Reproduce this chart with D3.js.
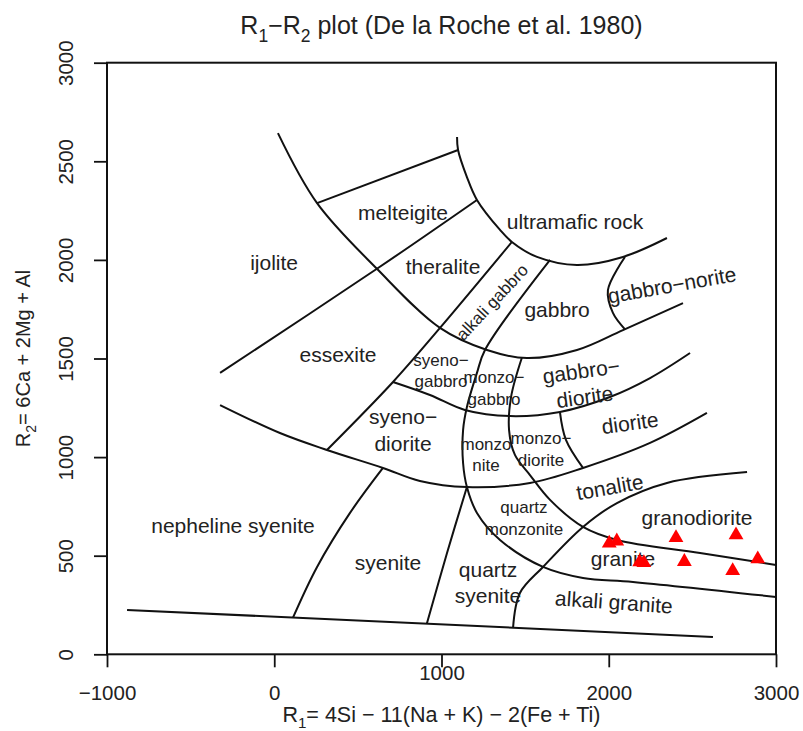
<!DOCTYPE html>
<html>
<head>
<meta charset="UTF-8"/>
<script src="https://d3js.org/d3.v7.min.js"></script>
<style>
body{margin:0;background:#fff;}
text{font-family:"Liberation Sans",Arial,sans-serif;fill:#222;}
</style>
</head>
<body>
<script>
// ticks
const xTicks = [-1000, 0, 1000, 2000, 3000];
const yTicks = [0, 500, 1000, 1500, 2000, 2500, 3000];

// field boundaries, [R1, R2]
const ultramaficArc = [[1093,2623],[1099,2557],[1152,2420],[1212,2304],[1350,2152],[1421,2091],[1571,2015],[1810,1974],[2085,2015],[2348,2111]];
const melteigiteTop = [[256,2288],[1099,2557]];
const theraliteTop  = [[1212,2304],[614,1955],[-324,1427]];
const gabbroBase    = [[22,2643],[256,2288],[614,1955],[991,1655],[1272,1543],[1511,1502],[1810,1543],[2085,1644],[2444,1781]];
const alkGabbroLeft = [[1421,2091],[991,1655],[710,1381],[315,1036]];
const monzoLine     = [[1649,2000],[1260,1543],[1212,1427],[1152,1254],[1129,1137],[1129,970],[1152,848],[1212,717],[1350,580],[1607,443],[1846,387],[2145,367],[3000,291]];
const graniteTop    = [[1481,1505],[1416,1305],[1404,1137],[1439,1011],[1529,909],[1649,783],[1846,646],[2049,580],[2546,514],[3000,453]];
const dioriteTop    = [[710,1381],[931,1315],[1140,1239],[1410,1208],[1708,1229],[2007,1305],[2247,1401],[2486,1528]];
const noriteLine    = [[2097,2015],[1995,1847],[2025,1731],[2097,1648]];
const tonaliteTop   = [[-324,1264],[34,1122],[315,1036],[650,945],[871,879],[1152,848],[1529,869],[1846,945],[2247,1072],[2587,1224]];
const monzoDiorite  = [[1708,1229],[1744,1087],[1846,945]];
const tonaliteBase  = [[2827,924],[2348,869],[2049,767],[1846,646],[1607,443],[1469,311],[1428,135]];
const baseLine      = [[-880,225],[2623,88]];
const syeniteLeft   = [[650,945],[453,717],[256,443],[112,186]];
const qSyeniteLeft  = [[1152,848],[1033,514],[913,157]];

const boundaries = [ultramaficArc, melteigiteTop, theraliteTop, gabbroBase, alkGabbroLeft,
  monzoLine, graniteTop, dioriteTop, noriteLine, tonaliteTop, monzoDiorite, tonaliteBase,
  baseLine, syeniteLeft, qSyeniteLeft];

// field names and where they sit
const fieldNames = ["melteigite","ijolite","theralite","ultramafic rock","gabbro","gabbro\u2212norite",
  "alkali gabbro","essexite","syeno\u2212|gabbro","monzo\u2212|gabbro","gabbro\u2212|diorite","syeno\u2212|diorite",
  "monzo|nite","monzo\u2212|diorite","diorite","tonalite","quartz|monzonite","granodiorite","granite",
  "alkali granite","nepheline syenite","syenite","quartz|syenite"];
const fieldR1 = [770,-1,1009,1798,1691,2378,1302,381,997,1314,1846,770,1266,1595,2127,2007,1493,2528,2085,2031,-247,680,1278];
const fieldR2 = [2238,1984,1964,2192,1746,1873,1786,1518,1437,1350,1371,1137,1011,1041,1173,848,691,691,483,265,651,463,362];

// samples
const sampleR1 = [2003,2048,2402,2761,2185,2210,2452,2891,2741];
const sampleR2 = [563,574,591,605,468,464,470,483,424];

const smallNames = ["alkali gabbro","syeno\u2212|gabbro","monzo\u2212|gabbro","monzo|nite","monzo\u2212|diorite","quartz|monzonite"];
const tilt = {"gabbro\u2212norite":-10,"alkali gabbro":-47,"gabbro\u2212|diorite":-8,"diorite":-8,"tonalite":-10,"alkali granite":4};

const width = 803, height = 731;
const x = d3.scaleLinear().domain([-1000,3000]).range([107,776]);
const y = d3.scaleLinear().domain([0,3000]).range([654.3,62.7]);

const svg = d3.select("body").append("svg")
  .attr("width",width).attr("height",height);

// text with subscripts
function rich(sel, parts, size){
  parts.forEach(p => {
    if(p.sub){
      sel.append("tspan").attr("dy",size*0.3).attr("font-size",size*0.7).text(p.t);
    }else{
      sel.append("tspan").attr("dy",p.after ? -size*0.3 : 0).text(p.t);
    }
  });
}

// title
const title = svg.append("text").attr("x",441.5).attr("y",34)
  .attr("text-anchor","middle").attr("font-size",25);
rich(title,[{t:"R"},{t:"1",sub:true},{t:"\u2212R",after:true},{t:"2",sub:true},{t:" plot (De la Roche et al. 1980)",after:true}],25);

// axes
const fmt = d3.format("d");
const xAxis = svg.append("g").attr("transform","translate(0,654.3)")
  .call(d3.axisBottom(x).tickValues(xTicks).tickFormat(fmt).tickSize(13).tickSizeOuter(0).tickPadding(18));
const yAxis = svg.append("g").attr("transform","translate(107,0)")
  .call(d3.axisLeft(y).tickValues(yTicks).tickFormat(fmt).tickSize(13).tickSizeOuter(0));

[xAxis,yAxis].forEach(g => {
  g.select(".domain").remove();
  g.selectAll(".tick line").attr("stroke","#111").attr("stroke-width",1.8);
  g.selectAll(".tick text").attr("font-size",20.5).attr("fill","#222")
   .attr("font-family","Liberation Sans, Arial, sans-serif");
});
xAxis.selectAll(".tick text").filter(d => d === 1000).attr("y",11);
yAxis.selectAll(".tick text")
  .attr("transform","rotate(-90)")
  .attr("x",0).attr("y",-34).attr("dy",0)
  .attr("text-anchor","middle");

svg.append("rect").attr("x",x(-1000)).attr("y",y(3000))
  .attr("width",x(3000)-x(-1000)).attr("height",y(0)-y(3000))
  .attr("fill","none").attr("stroke","#111").attr("stroke-width",2);

// axis titles
const xt = svg.append("text").attr("x",441.5).attr("y",722)
  .attr("text-anchor","middle").attr("font-size",21.5);
rich(xt,[{t:"R"},{t:"1",sub:true},{t:"= 4Si \u2212 11(Na + K) \u2212 2(Fe + Ti)",after:true}],21.5);

const yt = svg.append("text").attr("transform","translate(30,358.5) rotate(-90)")
  .attr("text-anchor","middle").attr("font-size",20);
rich(yt,[{t:"R"},{t:"2",sub:true},{t:"= 6Ca + 2Mg + Al",after:true}],20);

// boundaries
const line = d3.line().x(d => x(d[0])).y(d => y(d[1])).curve(d3.curveCatmullRom.alpha(0.5));
svg.append("g").selectAll("path").data(boundaries).join("path")
  .attr("d",line).attr("fill","none").attr("stroke","#111").attr("stroke-width",2);

// field labels
const labels = svg.append("g").selectAll("text").data(fieldNames).join("text")
  .attr("text-anchor","middle")
  .attr("font-size",d => smallNames.includes(d) ? 17 : 21)
  .attr("transform",(d,i) => "translate("+x(fieldR1[i])+","+y(fieldR2[i])+") rotate("+(tilt[d]||0)+")");
labels.each(function(d){
  const rows = d.split("|");
  const fs = smallNames.includes(d) ? 17 : 21;
  const lh = fs*1.25;
  rows.forEach((r,k) => {
    d3.select(this).append("tspan").attr("x",0)
      .attr("y",(k-(rows.length-1)/2)*lh)
      .attr("dy","0.35em").text(r);
  });
});

// samples
svg.append("g").selectAll("path").data(sampleR1).join("path")
  .attr("transform",(d,i) => "translate("+x(d)+","+y(sampleR2[i])+")")
  .attr("d",d3.symbol(d3.symbolTriangle,95))
  .attr("fill","#f00");
</script>
</body>
</html>
